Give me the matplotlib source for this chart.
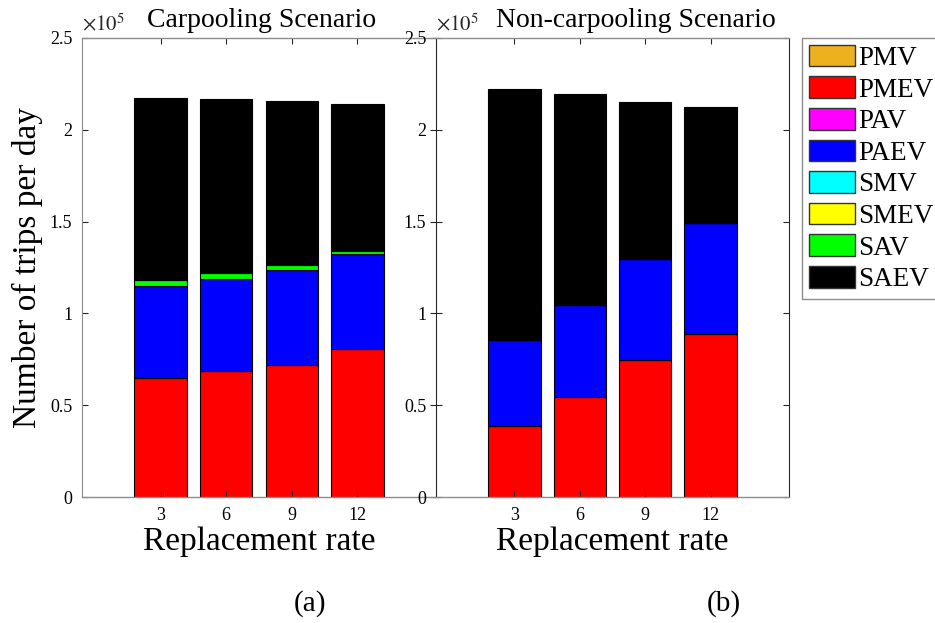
import numpy as np
import matplotlib
matplotlib.use('Agg')
import matplotlib.pyplot as plt
from matplotlib.patches import Patch
from matplotlib.ticker import FuncFormatter

plt.rcParams['font.family'] = ['Liberation Serif', 'DejaVu Serif']
plt.rcParams['mathtext.fontset'] = 'stix'

# data (trips per day)
rates = ['3', '6', '9', '12']
modes = ['PMV', 'PMEV', 'PAV', 'PAEV', 'SMV', 'SMEV', 'SAV', 'SAEV']
colors = ['#EDB120', '#FF0000', '#FF00FF', '#0000FF',
          '#00FFFF', '#FFFF00', '#00FF00', '#000000']

zeros4 = [0, 0, 0, 0]
# carpooling scenario
cp_pmev = [65000, 68500, 72000, 80500]
cp_paev = [50100, 50200, 51600, 51800]
cp_sav = [2900, 3100, 2800, 1900]
cp_saev = [99300, 94800, 89400, 80000]
# non-carpooling scenario
nc_pmev = [38700, 54300, 74600, 88600]
nc_paev = [46800, 50300, 55000, 60400]
nc_sav = [0, 0, 0, 0]
nc_saev = [136900, 114700, 85700, 63600]

cp_stack = [zeros4, cp_pmev, zeros4, cp_paev, zeros4, zeros4, cp_sav, cp_saev]
nc_stack = [zeros4, nc_pmev, zeros4, nc_paev, zeros4, zeros4, nc_sav, nc_saev]

fig = plt.figure(figsize=(9.35, 6.23), dpi=100)
W, H = 935.0, 623.0
ax1 = fig.add_axes([82 / W, 1 - 497 / H, 354 / W, 459 / H])
ax2 = fig.add_axes([436 / W, 1 - 497 / H, 353 / W, 459 / H])
ax2.set_zorder(2)

x = np.arange(1, len(rates) + 1)
fmt = FuncFormatter(lambda v, p: ('%g' % (v / 1e5)))

for ax, stack, title, tx in [(ax1, cp_stack, 'Carpooling Scenario', 262),
                             (ax2, nc_stack, 'Non-carpooling Scenario', 636)]:
    bottom = np.zeros(len(rates))
    for vals, c in zip(stack, colors):
        ax.bar(x, vals, bottom=bottom, width=0.8, color=c,
               edgecolor='k', linewidth=0.8)
        bottom += np.array(vals)
    ax.set_xlim(-0.2, 5.2)
    ax.set_ylim(0, 250000)
    ax.set_yticks(np.arange(0, 250001, 50000))
    ax.yaxis.set_major_formatter(fmt)
    ax.set_xticks(x, rates)
    ax.tick_params(direction='in', top=True, right=True, length=4,
                   labelsize=13, color='#262626', pad=7)
    ax.text(0.0, 1.005, r'$\times10^{5}$', transform=ax.transAxes,
            ha='left', va='bottom', fontsize=15, color='#262626')
    fig.text(tx / W, 1 - 27 / H, title, ha='center', va='baseline', fontsize=20)
    ax.set_xlabel('Replacement rate', fontsize=24, va='baseline')
    ax.xaxis.set_label_coords(0.5, -(550 - 497) / 459)
    for s in ['top', 'bottom']:
        ax.spines[s].set_color('#8c8c8c')
        ax.spines[s].set_linewidth(1.0)

ax1.spines['left'].set_color('#8c8c8c')
ax1.spines['right'].set_visible(False)
ax2.spines['left'].set_color('#262626')
ax2.spines['right'].set_color('#262626')

ax1.set_ylabel('Number of trips per day', fontsize=24)
ax1.yaxis.set_label_coords(-0.11, 0.5)

fig.text(310 / W, 1 - 604 / H, '(a)', ha='center', va='center', fontsize=21)
fig.text(724 / W, 1 - 604 / H, '(b)', ha='center', va='center', fontsize=21)

handles = [Patch(facecolor=c, edgecolor='#333333', linewidth=1.0) for c in colors]
leg = fig.legend(handles, modes, loc='upper left',
                 bbox_to_anchor=(802 / W, 1 - 38 / H), fontsize=19.5,
                 fancybox=False, borderaxespad=0, borderpad=0.25,
                 handlelength=1.7, handleheight=0.85, handletextpad=0.12,
                 labelspacing=0.2, framealpha=1)
leg.get_frame().set_edgecolor('#8c8c8c')
leg.get_frame().set_linewidth(1.0)

fig.savefig('out.png', dpi=100)
